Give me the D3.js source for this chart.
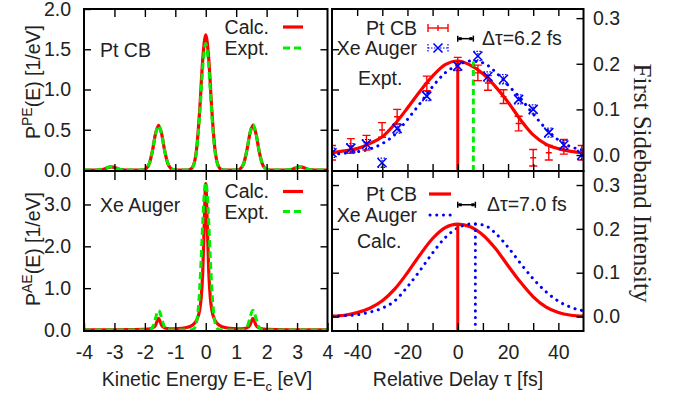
<!DOCTYPE html>
<html>
<head>
<meta charset="utf-8">
<script src="https://cdn.jsdelivr.net/npm/d3@7"></script>
<style>
  body { margin: 0; background: #fff; }
  svg { display: block; }
</style>
</head>
<body>
<svg id="chart" width="682" height="401"></svg>
<script>
// ---------- Photoelectron spectrum, Pt conduction band (eV, 1/eV) ----------
const ptEnergy = [-4.0,-3.6,-3.4,-3.3,-3.2,-3.1,-3.0,-2.9,-2.8,-2.6,-2.2,
  -2.05,-1.95,-1.85,-1.75,-1.65,-1.55,-1.45,-1.35,-1.25,-1.15,-1.05,
  -0.9,-0.6,
  -0.5,-0.4,-0.3,-0.2,-0.1,0,0.1,0.2,0.3,0.4,0.5,
  0.6,0.9,
  1.05,1.15,1.25,1.35,1.45,1.55,1.65,1.75,1.85,1.95,2.05,
  2.2,2.6,2.8,2.9,3.0,3.1,3.2,3.3,3.4,3.6,4.0];
const ptCalc = [0,0,0.006,0.017,0.032,0.040,0.032,0.017,0.006,0,0,
  0.003,0.020,0.085,0.241,0.451,0.555,0.451,0.241,0.085,0.020,0.003,
  0,0,
  0.009,0.062,0.265,0.740,1.370,1.680,1.370,0.740,0.265,0.062,0.009,
  0,0,
  0.003,0.020,0.085,0.241,0.451,0.555,0.451,0.241,0.085,0.020,0.003,
  0,0,0.006,0.017,0.032,0.040,0.032,0.017,0.006,0,0];
const ptExpt = [0,0,0.006,0.018,0.034,0.042,0.034,0.018,0.006,0,0,
  0.003,0.020,0.085,0.239,0.447,0.550,0.447,0.239,0.085,0.020,0.003,
  0,0,
  0.009,0.057,0.242,0.683,1.275,1.570,1.275,0.683,0.242,0.057,0.009,
  0,0,
  0.003,0.020,0.087,0.246,0.459,0.565,0.459,0.246,0.087,0.020,0.003,
  0,0,0.006,0.018,0.034,0.042,0.034,0.018,0.006,0,0];

// ---------- Auger electron spectrum, Xe (eV, 1/eV) ----------
const xeEnergy = [-4.0,-3.0,-2.4,-2.05,-1.95,-1.85,-1.75,-1.65,-1.6,-1.55,-1.5,-1.45,-1.35,-1.25,-1.15,-1.05,
  -0.8,-0.6,-0.5,-0.4,-0.3,-0.2,-0.15,-0.1,-0.05,0,0.05,0.1,0.15,0.2,0.3,0.4,0.5,0.6,0.8,
  1.05,1.15,1.25,1.35,1.45,1.5,1.55,1.6,1.65,1.75,1.85,1.95,2.05,2.4,3.0,4.0];
const xeCalc = [0.002,0.004,0.008,0.013,0.018,0.028,0.050,0.115,0.205,0.280,0.205,0.115,0.050,0.034,0.028,0.028,
  0.040,0.065,0.090,0.140,0.235,0.480,0.770,1.370,2.520,3.500,2.520,1.370,0.770,0.480,0.235,0.140,0.090,0.065,0.040,
  0.028,0.028,0.034,0.050,0.115,0.205,0.280,0.205,0.115,0.050,0.028,0.018,0.013,0.008,0.004,0.002];
const xeExpt = [0,0,0,0,0,0.005,0.063,0.285,0.410,0.470,0.410,0.285,0.063,0.005,0,0,
  0,0,0.002,0.021,0.197,0.979,1.710,2.556,3.250,3.520,3.250,2.556,1.710,0.979,0.197,0.021,0.002,0,0,
  0,0,0.005,0.063,0.285,0.410,0.470,0.410,0.285,0.063,0.005,0,0,0,0,0];

// ---------- First sideband intensity vs. relative delay (fs) ----------
const delayGrid = [-50,-45,-40,-35,-30,-25,-20,-15,-10,-5,0,5,10,15,20,25,30,35,40,45,50];
const ptFitExpt = [0.005,0.009,0.014,0.025,0.040,0.068,0.103,0.140,0.173,0.198,0.206,0.197,0.178,0.150,0.116,0.077,0.044,0.024,0.014,0.008,0.005];
const xeFitExpt = [0.001,0.004,0.007,0.013,0.025,0.045,0.078,0.113,0.150,0.180,0.197,0.206,0.202,0.182,0.153,0.124,0.090,0.058,0.033,0.018,0.011];
const ptCalcScan = [0.001,0.003,0.009,0.019,0.036,0.063,0.100,0.141,0.178,0.203,0.211,0.205,0.186,0.155,0.116,0.078,0.045,0.022,0.009,0.003,0.001];
const xeCalcScan = [0.001,0.002,0.004,0.010,0.019,0.036,0.068,0.105,0.145,0.180,0.202,0.211,0.209,0.190,0.158,0.121,0.086,0.057,0.035,0.021,0.013];

// measured points with error bars
const measDelay = [-50,-42.5,-36.3,-30.1,-24.1,-12.3,0,8,12,18.2,24.2,30,36.2,42.2,49.3];
const ptMeas    = [0.005,0.020,0.027,0.055,0.084,0.157,0.200,0.180,0.158,0.128,0.069,-0.006,0.005,0.018,0.005];
const ptMeasErr = [0.016,0.016,0.016,0.016,0.016,0.016,0.014,0.017,0.016,0.015,0.016,0.018,0.016,0.016,0.016];
const xeMeas    = [0.005,0.015,0.024,-0.017,0.058,0.129,0.195,0.217,0.172,0.166,0.122,0.100,0.049,0.022,0.000];
const xeMeasErr = [0.010,0.010,0.010,0.010,0.010,0.010,0.010,0.010,0.010,0.010,0.010,0.010,0.010,0.010,0.010];

// peak centroids and delay shifts
const exptCentroid = [0, 6.2];
const exptCentroidHeight = [0.206, 0.205];
const calcCentroid = [0, 7.0];
const calcCentroidHeight = [0.211, 0.212];
const delayShift = [6.2, 7.0];
const shiftBarLevel = 0.255;

// ---------- ticks ----------
const energyTickLabels = [-4,-3,-2,-1,0,1,2,3,4];
const energyTickMarks = [-3,-2,-1,0,1,2,3];
const peYTicks = [0,0.5,1.0,1.5,2.0];
const aeYTicks = [0,1.0,2.0,3.0];
const delayTickMarks = [-40,-30,-20,-10,0,10,20,30,40];
const delayTickLabels = [-40,-20,0,20,40];
const sidebandTicks = [0,0.1,0.2,0.3];

// ---------- layout ----------
const FONT = "'Liberation Sans', Arial, Helvetica, sans-serif";
const SERIF = "'Liberation Serif', 'Times New Roman', serif";
const TXT = "#222";
const FS = 19.5;
const RED = "#ff0000", GREEN = "#00ee00", BLUE = "#0000ff";

const svg = d3.select("#chart");

const P = {
  tl: {x0: 84,  x1: 327.5, y0: 9,   y1: 171},
  bl: {x0: 84,  x1: 327.5, y0: 171, y1: 331},
  tr: {x0: 332, x1: 583.5, y0: 9,   y1: 171},
  br: {x0: 332, x1: 583.5, y0: 171, y1: 331}
};

const xE  = d3.scaleLinear([-4, 4], [P.tl.x0, P.tl.x1]);
const yPE = d3.scaleLinear([0, 2], [170, 9]);
const yAE = d3.scaleLinear([0, 3.8], [330, 171]);
const xT  = d3.scaleLinear([-50, 50], [P.tr.x0, P.tr.x1]);
const yTR = d3.scaleLinear([-0.035, 0.32], [171, 9]);
const yBR = d3.scaleLinear([-0.033, 0.332], [331, 171]);

const defs = svg.append("defs");
Object.entries(P).forEach(([k, p]) => {
  defs.append("clipPath").attr("id", "clip-" + k)
    .append("rect").attr("x", p.x0).attr("y", p.y0)
    .attr("width", p.x1 - p.x0).attr("height", p.y1 - p.y0);
});
const layer = k => svg.append("g").attr("clip-path", `url(#clip-${k})`);

function addAxis(axis, tx, ty) {
  const g = svg.append("g").attr("transform", `translate(${tx},${ty})`).call(axis);
  g.select(".domain").remove();
  g.selectAll(".tick line").attr("stroke", "#000").attr("stroke-width", 1.4);
  g.selectAll(".tick text").attr("fill", TXT)
    .style("font-family", FONT).style("font-size", FS + "px");
  return g;
}

function curve(xs, ys, sx, sy) {
  return d3.line().x((d, i) => sx(xs[i])).y(d => sy(d)).curve(d3.curveMonotoneX)(ys);
}

const solid = (sel, c, w) => sel.attr("fill", "none").attr("stroke", c).attr("stroke-width", w);
const dashed = (sel, c, w) => solid(sel, c, w).attr("stroke-dasharray", "7,4");
const dotted = (sel, c, w) => solid(sel, c, w).attr("stroke-dasharray", "0.1,6.6").attr("stroke-linecap", "round");

function text(x, y, str, anchor = "start", size = FS) {
  return svg.append("text").attr("x", x).attr("y", y).attr("text-anchor", anchor)
    .attr("fill", TXT).style("font-family", FONT).style("font-size", size + "px").text(str);
}

// ---------- spectra panels ----------
const gTL = layer("tl");
solid(gTL.append("path").attr("d", curve(ptEnergy, ptCalc, xE, yPE)), RED, 3.2);
dashed(gTL.append("path").attr("d", curve(ptEnergy, ptExpt, xE, yPE)), GREEN, 3);

const gBL = layer("bl");
solid(gBL.append("path").attr("d", curve(xeEnergy, xeCalc, xE, yAE)), RED, 3.2);
dashed(gBL.append("path").attr("d", curve(xeEnergy, xeExpt, xE, yAE)), GREEN, 3);

// ---------- experimental delay scan ----------
const gTR = layer("tr");
solid(gTR.append("path").attr("d", curve(delayGrid, ptFitExpt, xT, yTR)), RED, 3.2);
dotted(gTR.append("path").attr("d", curve(delayGrid, xeFitExpt, xT, yTR)), BLUE, 3);

// centroid markers
solid(gTR.append("line").attr("x1", xT(exptCentroid[0])).attr("x2", xT(exptCentroid[0]))
  .attr("y1", P.tr.y1).attr("y2", yTR(exptCentroidHeight[0])), RED, 3);
solid(gTR.append("line").attr("x1", xT(exptCentroid[1])).attr("x2", xT(exptCentroid[1]))
  .attr("y1", P.tr.y1).attr("y2", yTR(exptCentroidHeight[1])), GREEN, 3)
  .attr("stroke-dasharray", "6,3.5");

// Pt CB data with error bars
measDelay.forEach((t, i) => {
  const x = xT(t), y = yTR(ptMeas[i]);
  const yl = yTR(ptMeas[i] - ptMeasErr[i]), yh = yTR(ptMeas[i] + ptMeasErr[i]);
  const g = gTR.append("g").attr("stroke", RED).attr("stroke-width", 1.4).attr("fill", "none");
  g.append("line").attr("x1", x).attr("x2", x).attr("y1", yl).attr("y2", yh);
  g.append("line").attr("x1", x - 4).attr("x2", x + 4).attr("y1", yl).attr("y2", yl);
  g.append("line").attr("x1", x - 4).attr("x2", x + 4).attr("y1", yh).attr("y2", yh);
  g.append("line").attr("x1", x - 3).attr("x2", x + 3).attr("y1", y).attr("y2", y);
});
// Xe Auger data with error bars
measDelay.forEach((t, i) => {
  const x = xT(t), y = yTR(xeMeas[i]);
  const yl = yTR(xeMeas[i] - xeMeasErr[i]), yh = yTR(xeMeas[i] + xeMeasErr[i]);
  const g = gTR.append("g").attr("stroke", BLUE).attr("fill", "none");
  g.append("line").attr("x1", x).attr("x2", x).attr("y1", yl).attr("y2", yh)
    .attr("stroke-width", 1.2).attr("stroke-dasharray", "1.5,1.5");
  [yl, yh].forEach(yy => g.append("line").attr("x1", x - 4.5).attr("x2", x + 4.5)
    .attr("y1", yy).attr("y2", yy).attr("stroke-width", 1.2).attr("stroke-dasharray", "1.5,1.5"));
  g.append("path").attr("stroke-width", 1.6)
    .attr("d", `M${x - 4.5},${y - 4.5}L${x + 4.5},${y + 4.5}M${x - 4.5},${y + 4.5}L${x + 4.5},${y - 4.5}`);
});

// ---------- calculated delay scan ----------
const gBR = layer("br");
solid(gBR.append("path").attr("d", curve(delayGrid, ptCalcScan, xT, yBR)), RED, 3.2);
dotted(gBR.append("path").attr("d", curve(delayGrid, xeCalcScan, xT, yBR)), BLUE, 3);
solid(gBR.append("line").attr("x1", xT(calcCentroid[0])).attr("x2", xT(calcCentroid[0]))
  .attr("y1", P.br.y1).attr("y2", yBR(calcCentroidHeight[0])), RED, 3);
dotted(gBR.append("line").attr("x1", xT(calcCentroid[1])).attr("x2", xT(calcCentroid[1]))
  .attr("y1", P.br.y1).attr("y2", yBR(calcCentroidHeight[1])), BLUE, 3);

// delay-shift bars
function shiftBar(ys, shift, labelX) {
  const x0 = xT(0), x1 = xT(shift), y = ys(shiftBarLevel);
  const g = svg.append("g").attr("stroke", "#000").attr("stroke-width", 1.5);
  g.append("line").attr("x1", x0).attr("x2", x1).attr("y1", y).attr("y2", y);
  [x0, x1].forEach(x => {
    g.append("line").attr("x1", x).attr("x2", x).attr("y1", y - 3).attr("y2", y + 3);
    g.append("rect").attr("x", x + (x === x0 ? 1 : -4)).attr("y", y - 1.5)
      .attr("width", 3).attr("height", 3).attr("fill", "#000").attr("stroke", "none");
  });
  text(labelX, y + 6.5, `Δτ=${d3.format(".1f")(shift)} fs`);
}
shiftBar(yTR, delayShift[0], 482);
shiftBar(yBR, delayShift[1], 487);

// ---------- axes / ticks ----------
// top-left
addAxis(d3.axisLeft(yPE).tickValues(peYTicks).tickFormat(d3.format(".1f")).tickSize(-7).tickPadding(13), P.tl.x0, 0);
addAxis(d3.axisRight(yPE).tickValues([0.5, 1, 1.5]).tickFormat("").tickSize(-7), P.tl.x1, 0);
addAxis(d3.axisBottom(xE).tickValues(energyTickMarks).tickFormat("").tickSize(8), 0, P.tl.y0);
addAxis(d3.axisTop(xE).tickValues(energyTickMarks).tickFormat("").tickSize(7), 0, P.tl.y1);
// bottom-left
addAxis(d3.axisLeft(yAE).tickValues(aeYTicks).tickFormat(d3.format(".1f")).tickSize(-7).tickPadding(13), P.bl.x0, 0);
addAxis(d3.axisRight(yAE).tickValues([1, 2, 3]).tickFormat("").tickSize(-7), P.bl.x1, 0);
addAxis(d3.axisBottom(xE).tickValues(energyTickMarks).tickFormat("").tickSize(9), 0, P.bl.y0);
addAxis(d3.axisBottom(xE).tickValues(energyTickLabels).tickFormat(d => String(d)).tickSize(-8).tickPadding(14), 0, P.bl.y1);
// top-right
addAxis(d3.axisLeft(yPE).tickValues([0.5, 1, 1.5]).tickFormat("").tickSize(-7), P.tr.x0, 0);
addAxis(d3.axisRight(yTR).tickValues(sidebandTicks).tickFormat(d3.format(".1f")).tickSize(-7).tickPadding(9.5), P.tr.x1, 0);
addAxis(d3.axisBottom(xT).tickValues(delayTickMarks).tickFormat("").tickSize(7), 0, P.tr.y0);
addAxis(d3.axisTop(xT).tickValues(delayTickMarks).tickFormat("").tickSize(7), 0, P.tr.y1);
// bottom-right
addAxis(d3.axisLeft(yBR).tickValues(sidebandTicks).tickFormat("").tickSize(-7), P.br.x0, 0);
addAxis(d3.axisRight(yBR).tickValues(sidebandTicks).tickFormat(d3.format(".1f")).tickSize(-7).tickPadding(9.5), P.br.x1, 0);
addAxis(d3.axisBottom(xT).tickValues(delayTickMarks).tickFormat("").tickSize(7), 0, P.br.y0);
addAxis(d3.axisBottom(xT).tickValues(delayTickMarks)
  .tickFormat(d => delayTickLabels.includes(d) ? String(d) : "").tickSize(-8).tickPadding(14), 0, P.br.y1);

// panel frames
Object.values(P).forEach(p => {
  svg.append("rect").attr("x", p.x0).attr("y", p.y0)
    .attr("width", p.x1 - p.x0).attr("height", p.y1 - p.y0)
    .attr("fill", "none").attr("stroke", "#000").attr("stroke-width", 2);
});

// ---------- legends and annotations ----------
// top-left
text(100, 56.5, "Pt CB");
text(269, 33.5, "Calc.", "end");
solid(svg.append("line").attr("x1", 283).attr("x2", 303).attr("y1", 27).attr("y2", 27), RED, 3.2);
text(269, 54.5, "Expt.", "end");
dashed(svg.append("line").attr("x1", 283).attr("x2", 304).attr("y1", 48).attr("y2", 48), GREEN, 3);
// bottom-left
text(100, 211.5, "Xe Auger");
text(269, 198, "Calc.", "end");
solid(svg.append("line").attr("x1", 283).attr("x2", 303).attr("y1", 191.5).attr("y2", 191.5), RED, 3.2);
text(269, 218.5, "Expt.", "end");
dashed(svg.append("line").attr("x1", 283).attr("x2", 304).attr("y1", 211.5).attr("y2", 211.5), GREEN, 3);
// top-right
text(417, 35, "Pt CB", "end");
{
  const g = svg.append("g").attr("stroke", RED).attr("stroke-width", 1.4);
  g.append("line").attr("x1", 428).attr("x2", 448).attr("y1", 28).attr("y2", 28);
  [428, 448].forEach(x => g.append("line").attr("x1", x).attr("x2", x).attr("y1", 24).attr("y2", 32));
  g.append("line").attr("x1", 438).attr("x2", 438).attr("y1", 25).attr("y2", 31);
}
text(417, 55, "Xe Auger", "end");
{
  const g = svg.append("g").attr("stroke", BLUE).attr("fill", "none");
  g.append("line").attr("x1", 428).attr("x2", 448).attr("y1", 48).attr("y2", 48)
    .attr("stroke-width", 1.2).attr("stroke-dasharray", "1.5,1.5");
  [428, 448].forEach(x => g.append("line").attr("x1", x).attr("x2", x).attr("y1", 44).attr("y2", 52)
    .attr("stroke-width", 1.2).attr("stroke-dasharray", "1.5,1.5"));
  g.append("path").attr("stroke-width", 1.6).attr("d", "M433.5,43.5L442.5,52.5M433.5,52.5L442.5,43.5");
}
text(358, 85, "Expt.");
// bottom-right
text(417, 200.5, "Pt CB", "end");
solid(svg.append("line").attr("x1", 429).attr("x2", 451).attr("y1", 194).attr("y2", 194), RED, 3.2);
text(417, 221.5, "Xe Auger", "end");
dotted(svg.append("line").attr("x1", 430).attr("x2", 452).attr("y1", 215).attr("y2", 215), BLUE, 3);
text(357, 248, "Calc.");

// ---------- axis titles ----------
{
  const t = text(207, 386, "Kinetic Energy E-E", "middle");
  t.append("tspan").attr("dy", 5).style("font-size", "13px").text("c");
  t.append("tspan").attr("dy", -5).text(" [eV]");
}
text(458, 386, "Relative Delay τ [fs]", "middle");

function pLabel(cy, sup) {
  const t = svg.append("text").attr("transform", `translate(40,${cy}) rotate(-90)`)
    .attr("text-anchor", "middle").attr("fill", TXT)
    .style("font-family", FONT).style("font-size", FS + "px");
  t.append("tspan").text("P");
  t.append("tspan").attr("dy", -8).style("font-size", "14px").text(sup);
  t.append("tspan").attr("dy", 8).text("(E) [1/eV]");
}
pLabel(82, "PE");
pLabel(249, "AE");

svg.append("text").attr("transform", "translate(634,183) rotate(90)")
  .attr("text-anchor", "middle").attr("fill", TXT)
  .style("font-family", SERIF).style("font-size", "25px")
  .text("First Sideband Intensity");
</script>
</body>
</html>
